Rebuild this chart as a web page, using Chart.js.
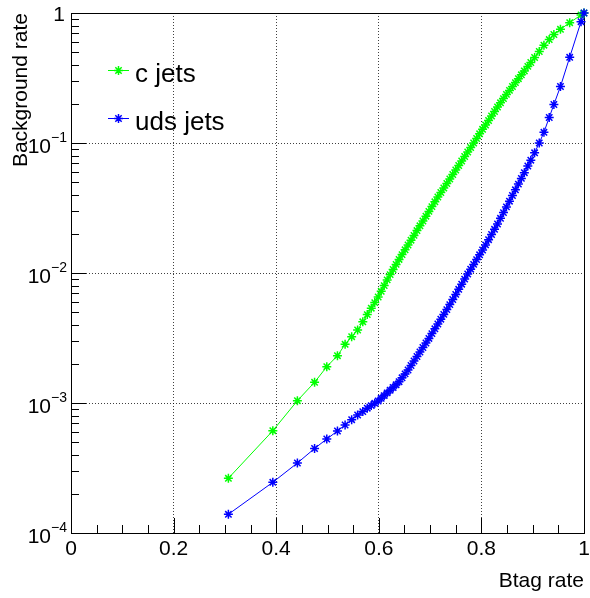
<!DOCTYPE html>
<html>
<head>
<meta charset="utf-8">
<title>Background rate vs Btag rate</title>
<script src="https://cdn.jsdelivr.net/npm/chart.js@4.4.1/dist/chart.umd.min.js"></script>
<style>
  html, body { margin: 0; padding: 0; background: #ffffff; }
  #wrap { width: 590px; height: 598px; }
</style>
</head>
<body>
<div id="wrap"><canvas id="chart" width="590" height="598"></canvas></div>
<script>
// b-tag efficiency at each discriminator cut (shared by both samples)
const btagRate = [
  0.3068, 0.3934, 0.4413, 0.4748, 0.4986, 0.5194, 0.5343, 0.5471, 0.5587, 0.5688,
  0.5775, 0.5853, 0.5921, 0.5988, 0.6047, 0.6105, 0.6163, 0.6221, 0.6279, 0.6337,
  0.6395, 0.6453, 0.6512, 0.6570, 0.6628, 0.6686, 0.6744, 0.6802, 0.6860, 0.6919,
  0.6977, 0.7035, 0.7093, 0.7151, 0.7209, 0.7267, 0.7326, 0.7384, 0.7442, 0.7500,
  0.7558, 0.7616, 0.7674, 0.7733, 0.7791, 0.7849, 0.7907, 0.7965, 0.8023, 0.8081,
  0.8140, 0.8198, 0.8256, 0.8314, 0.8372, 0.8430, 0.8488, 0.8547, 0.8605, 0.8663,
  0.8721, 0.8779, 0.8837, 0.8905, 0.8963, 0.9037, 0.9128, 0.9219, 0.9322, 0.9413,
  0.9541, 0.9721, 0.9942, 1.0
];

// mistag rate of c jets at the same cuts
const cJetRate = [
  2.635e-4, 6.12e-4, 1.042e-3, 1.443e-3, 1.902e-3, 2.311e-3, 2.828e-3, 3.236e-3, 3.642e-3, 4.213e-3,
  4.786e-3, 5.361e-3, 5.920e-3, 6.538e-3, 7.232e-3, 8.000e-3, 8.849e-3, 9.72e-3, 1.064e-2, 1.165e-2,
  1.272e-2, 1.385e-2, 1.508e-2, 1.642e-2, 1.788e-2, 1.946e-2, 2.120e-2, 2.307e-2, 2.512e-2, 2.735e-2,
  2.977e-2, 3.242e-2, 3.529e-2, 3.842e-2, 4.161e-2, 4.507e-2, 4.882e-2, 5.286e-2, 5.725e-2, 6.200e-2,
  6.714e-2, 7.271e-2, 7.875e-2, 8.527e-2, 9.235e-2, 0.1000, 0.1083, 0.1177, 0.1275, 0.1375,
  0.1490, 0.1613, 0.1747, 0.1892, 0.2038, 0.2195, 0.2365, 0.2539, 0.2720, 0.2914,
  0.3123, 0.3346, 0.3585, 0.3883, 0.4161, 0.4547, 0.5055, 0.5654, 0.6245, 0.6834,
  0.7495, 0.8423, 0.965, 1.0
];

// mistag rate of light (uds) jets at the same cuts
const udsJetRate = [
  1.393e-4, 2.455e-4, 3.455e-4, 4.467e-4, 5.286e-4, 6.088e-4, 6.773e-4, 7.437e-4, 8.083e-4, 8.587e-4,
  9.12e-4, 9.55e-4, 9.95e-4, 1.036e-3, 1.087e-3, 1.140e-3, 1.196e-3, 1.254e-3, 1.316e-3, 1.380e-3,
  1.458e-3, 1.562e-3, 1.674e-3, 1.794e-3, 1.943e-3, 2.104e-3, 2.279e-3, 2.468e-3, 2.673e-3, 2.894e-3,
  3.139e-3, 3.418e-3, 3.723e-3, 4.053e-3, 4.411e-3, 4.803e-3, 5.230e-3, 5.713e-3, 6.256e-3, 6.845e-3,
  7.491e-3, 8.199e-3, 8.976e-3, 9.824e-3, 1.070e-2, 1.165e-2, 1.268e-2, 1.380e-2, 1.503e-2, 1.645e-2,
  1.804e-2, 1.978e-2, 2.169e-2, 2.381e-2, 2.635e-2, 2.914e-2, 3.225e-2, 3.566e-2, 3.946e-2, 4.365e-2,
  4.829e-2, 5.342e-2, 5.908e-2, 6.655e-2, 7.375e-2, 8.406e-2, 0.1000, 0.1209, 0.1571, 0.1978,
  0.2720, 0.4562, 0.8572, 1.0
];

const seriesNames = ['c jets', 'uds jets'];
const seriesColors = ['#00ff00', '#0000ff'];

const xTickValues = [0, 0.2, 0.4, 0.6, 0.8, 1];
const xTickLabels = ['0', '0.2', '0.4', '0.6', '0.8', '1'];
const yDecades = [-4, -3, -2, -1, 0];

const xTitle = 'Btag rate';
const yTitle = 'Background rate';

const FONT = '"Liberation Sans", Arial, Helvetica, sans-serif';
const MARKER_RADIUS = 4.5;
const MARKER_WIDTH = 1.5;

// Frame, inward ticks, axis labels, titles and legend in the ROOT look
const rootStyle = {
  id: 'rootStyle',
  beforeDatasetsDraw(chart) {
    const { ctx, chartArea: a, scales: { x, y } } = chart;
    ctx.save();
    ctx.strokeStyle = '#000';
    ctx.lineWidth = 1;
    ctx.setLineDash([]);
    // frame
    ctx.strokeRect(Math.round(a.left) + 0.5, Math.round(a.top) + 0.5,
                   Math.round(a.right - a.left), Math.round(a.bottom - a.top));
    ctx.beginPath();
    // x ticks: major every 0.2, minor every 0.05
    for (let k = 0; k <= 20; k++) {
      const v = k * 0.05;
      const px = Math.round(x.getPixelForValue(v)) + 0.5;
      const len = (k % 4 === 0) ? 15 : 8;
      ctx.moveTo(px, a.bottom);
      ctx.lineTo(px, a.bottom - len);
    }
    // y ticks: major at decades, minor at 2..9
    for (let d = yDecades[0]; d < yDecades[yDecades.length - 1]; d++) {
      for (let m = 1; m <= 9; m++) {
        const v = m * Math.pow(10, d);
        const py = Math.round(y.getPixelForValue(v)) + 0.5;
        const len = (m === 1) ? 15 : 8;
        ctx.moveTo(a.left, py);
        ctx.lineTo(a.left + len, py);
      }
    }
    const pyTop = Math.round(y.getPixelForValue(1)) + 0.5;
    ctx.moveTo(a.left, pyTop);
    ctx.lineTo(a.left + 15, pyTop);
    ctx.stroke();
    ctx.restore();
  },
  afterDraw(chart) {
    const { ctx, chartArea: a, scales: { x, y } } = chart;
    ctx.save();
    ctx.fillStyle = '#000';

    // x tick labels
    ctx.font = '21px ' + FONT;
    ctx.textAlign = 'center';
    ctx.textBaseline = 'alphabetic';
    xTickValues.forEach((v, i) => {
      ctx.fillText(xTickLabels[i], x.getPixelForValue(v), a.bottom + 22);
    });

    // y tick labels: 1 and 10^n with a raised exponent
    const rightEdge = a.left - 4;
    yDecades.forEach((d) => {
      const py = y.getPixelForValue(Math.pow(10, d));
      if (d === 0) {
        ctx.font = '21px ' + FONT;
        ctx.textAlign = 'right';
        ctx.fillText('1', rightEdge - 2, py + 7.5);
      } else {
        const exp = '\u2212' + String(-d);
        ctx.font = '14px ' + FONT;
        const wExp = ctx.measureText(exp).width;
        ctx.font = '21px ' + FONT;
        const wBase = ctx.measureText('10').width;
        const x0 = rightEdge - wExp - wBase;
        ctx.textAlign = 'left';
        ctx.fillText('10', x0, py + 10);
        ctx.font = '14px ' + FONT;
        ctx.fillText(exp, x0 + wBase, py - 1);
      }
    });

    // axis titles
    ctx.font = '21px ' + FONT;
    ctx.textAlign = 'right';
    ctx.fillText(xTitle, a.right, 587);
    ctx.save();
    ctx.translate(27, a.top);
    ctx.rotate(-Math.PI / 2);
    ctx.textAlign = 'right';
    ctx.fillText(yTitle, 0, 0);
    ctx.restore();

    // legend
    const legendY = [70, 118];
    seriesNames.forEach((name, i) => {
      const ly = legendY[i];
      ctx.strokeStyle = seriesColors[i];
      ctx.lineWidth = 1;
      ctx.beginPath();
      ctx.moveTo(108, ly + 0.5);
      ctx.lineTo(129, ly + 0.5);
      ctx.stroke();
      ctx.lineWidth = MARKER_WIDTH;
      Chart.helpers.drawPoint(ctx, { pointStyle: 'star', radius: MARKER_RADIUS, borderWidth: MARKER_WIDTH }, 118.5, ly + 0.5);
      ctx.fillStyle = '#000';
      ctx.font = '26px ' + FONT;
      ctx.textAlign = 'left';
      ctx.fillText(name, 135, ly + 12);
    });
    ctx.restore();
  }
};

function makeSeries(values, idx, order) {
  return {
    label: seriesNames[idx],
    data: btagRate.map((bx, i) => ({ x: bx, y: values[i] })),
    showLine: true,
    borderColor: seriesColors[idx],
    backgroundColor: seriesColors[idx],
    borderWidth: 1,
    pointStyle: 'star',
    pointRadius: MARKER_RADIUS,
    pointBorderWidth: MARKER_WIDTH,
    pointBorderColor: seriesColors[idx],
    tension: 0,
    clip: false,
    order: order
  };
}

const gridColor = 'rgba(0,0,0,0.75)';

new Chart(document.getElementById('chart').getContext('2d'), {
  type: 'scatter',
  data: {
    datasets: [
      makeSeries(cJetRate, 0, 2),
      makeSeries(udsJetRate, 1, 1)
    ]
  },
  options: {
    responsive: false,
    animation: false,
    devicePixelRatio: 1,
    layout: { padding: { left: 71, right: 3, top: 13, bottom: 65 } },
    plugins: {
      legend: { display: false },
      tooltip: { enabled: false }
    },
    scales: {
      x: {
        type: 'linear',
        min: 0,
        max: 1,
        afterBuildTicks: (s) => { s.ticks = xTickValues.map(v => ({ value: v })); },
        ticks: { display: false },
        grid: { drawTicks: false, color: gridColor, lineWidth: 1 },
        border: { display: false, dash: [1, 2] },
        title: { display: false }
      },
      y: {
        type: 'logarithmic',
        min: 1e-4,
        max: 1,
        afterBuildTicks: (s) => { s.ticks = yDecades.map(d => ({ value: Math.pow(10, d) })); },
        ticks: { display: false },
        grid: { drawTicks: false, color: gridColor, lineWidth: 1 },
        border: { display: false, dash: [1, 2] },
        title: { display: false }
      }
    }
  },
  plugins: [rootStyle]
});
</script>
</body>
</html>
